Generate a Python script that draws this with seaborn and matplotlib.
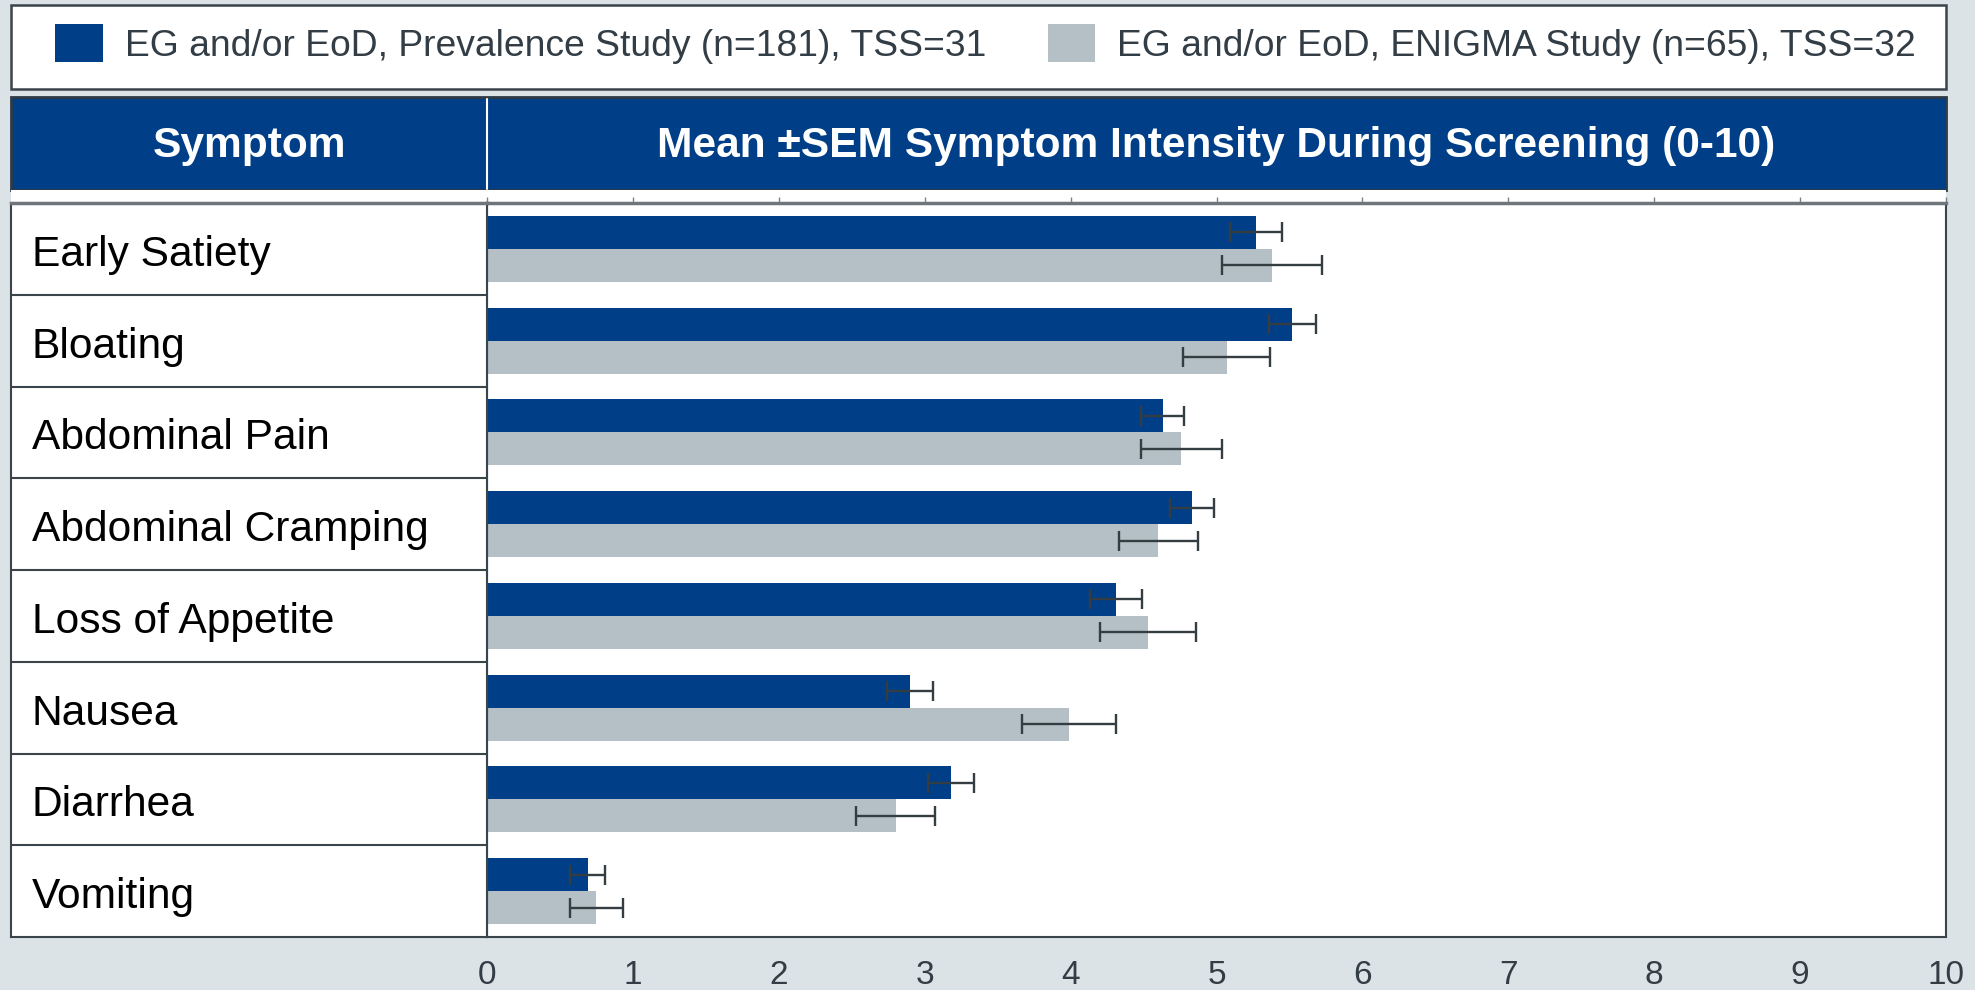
import numpy as np
import pandas as pd
import matplotlib
matplotlib.use("Agg")
import matplotlib.pyplot as plt
import seaborn as sns
from matplotlib.patches import Rectangle
from matplotlib.lines import Line2D

# ---------------- data ----------------
symptoms = ["Early Satiety", "Bloating", "Abdominal Pain", "Abdominal Cramping",
            "Loss of Appetite", "Nausea", "Diarrhea", "Vomiting"]
series_names = ["EG and/or EoD, Prevalence Study (n=181), TSS=31",
                "EG and/or EoD, ENIGMA Study (n=65), TSS=32"]
prev_mean = [5.27, 5.52, 4.63, 4.83, 4.31, 2.90, 3.18, 0.69]
prev_sem = [0.18, 0.16, 0.15, 0.15, 0.18, 0.16, 0.16, 0.12]
enig_mean = [5.38, 5.07, 4.76, 4.60, 4.53, 3.99, 2.80, 0.75]
enig_sem = [0.34, 0.30, 0.28, 0.27, 0.33, 0.32, 0.27, 0.18]
x_ticks = list(range(0, 11))
header_left = "Symptom"
header_right = "Mean ±SEM Symptom Intensity During Screening (0-10)"

# ---------------- style ----------------
W, H = 1975, 990
BG = "#DCE3E6"
BLUE = "#003F87"
GRAY = "#B4C0C6"
DARK = "#3A444B"
TXT = "#333D45"

sns.set_theme(style="white")
plt.rcParams['font.family'] = ['Liberation Sans', 'DejaVu Sans']

fig = plt.figure(figsize=(W / 100, H / 100), dpi=100, facecolor=BG)


def fx(px):
    return px / W


def fy(py):
    return 1 - py / H


def rect(x0, y0, x1, y1, **kw):
    r = Rectangle((fx(x0), fy(y1)), fx(x1) - fx(x0), fy(y0) - fy(y1),
                  transform=fig.transFigure, **kw)
    fig.add_artist(r)
    return r


# legend box
rect(11, 5, 1946, 89, facecolor="white", edgecolor=DARK, lw=1.8, zorder=0)
# header band
rect(11, 97, 1946, 190, facecolor=BLUE, edgecolor="#2E3A44", lw=2.0, zorder=0)
fig.add_artist(Line2D([fx(487), fx(487)], [fy(99), fy(189)], color="white",
                      lw=1.5, transform=fig.transFigure))
# white table background
rect(11, 190, 1946, 937, facecolor="white", edgecolor="none", zorder=0)

fig.text(fx(249), fy(157), header_left, ha="center", va="baseline",
         fontsize=30.6, fontweight="bold", color="white")
fig.text(fx(1216), fy(157), header_right, ha="center", va="baseline",
         fontsize=30.6, fontweight="bold", color="white")

# ---------------- main axes ----------------
ax = fig.add_axes([fx(487), fy(937), fx(1946) - fx(487), fy(203) - fy(937)])
ax.set_facecolor("white")

df = pd.DataFrame({
    "Symptom": symptoms * 2,
    "Study": [series_names[0]] * len(symptoms) + [series_names[1]] * len(symptoms),
    "Mean": prev_mean + enig_mean,
})

sns.barplot(data=df, x="Mean", y="Symptom", hue="Study", order=symptoms,
            hue_order=series_names, palette=[BLUE, GRAY], width=0.72,
            errorbar=None, saturation=1, linewidth=0, orient="h", ax=ax)

handles, labels = ax.get_legend_handles_labels()
if ax.get_legend() is not None:
    ax.get_legend().remove()

for container, means, sems in zip(ax.containers, [prev_mean, enig_mean],
                                  [prev_sem, enig_sem]):
    ys = [b.get_y() + b.get_height() / 2 for b in container]
    ax.errorbar(means, ys, xerr=sems, fmt="none", ecolor="#333D42",
                elinewidth=1.7, capsize=7.5, capthick=1.7, zorder=5)

ax.set_xlim(0, 10)
ax.set_ylim(7.5, -0.5)
ax.set_xticks(x_ticks)
ax.set_xticklabels([str(t) for t in x_ticks], fontsize=24, color=TXT)
ax.tick_params(axis="x", bottom=False, top=True, labelbottom=True,
               labeltop=False, direction="out", length=4.5, width=1,
               color="#7A8288", pad=12)
ax.set_yticks(np.arange(-0.5, 8, 1))
ax.set_yticklabels([])
ax.tick_params(axis="y", left=True, direction="out", length=4, width=1.5,
               color=DARK)
ax.set_xlabel("")
ax.set_ylabel("")
for side in ["left", "right", "bottom"]:
    ax.spines[side].set_visible(True)
    ax.spines[side].set_color(DARK)
    ax.spines[side].set_linewidth(1.5)
ax.spines["top"].set_visible(True)
ax.spines["top"].set_color("#6E767C")
ax.spines["top"].set_linewidth(2.5)

# ---------------- left symptom column ----------------
axl = fig.add_axes([fx(11), fy(937), fx(487) - fx(11), fy(203) - fy(937)])
axl.set_facecolor("white")
axl.set_xlim(0, 1)
axl.set_ylim(7.5, -0.5)
axl.set_xticks([])
axl.set_yticks([])
for side in axl.spines:
    axl.spines[side].set_visible(True)
    axl.spines[side].set_color(DARK)
    axl.spines[side].set_linewidth(1.5)
axl.spines["top"].set_color("#6E767C")
axl.spines["top"].set_linewidth(2.5)
for i in range(1, len(symptoms)):
    axl.axhline(i - 0.5, color=DARK, lw=1.5)
for i, s in enumerate(symptoms):
    axl.text(0.044, i + 0.185, s, ha="left", va="baseline", fontsize=30.6,
             color="black")

# ---------------- legend ----------------
fig.legend(handles, labels, loc="center left",
           bbox_to_anchor=(fx(55), fy(44)), ncol=2, frameon=False,
           fontsize=26.8, handlelength=1.28, handleheight=1.18,
           handletextpad=0.59, columnspacing=1.66, borderpad=0,
           borderaxespad=0, labelcolor=TXT)

fig.savefig("out.png", dpi=100, facecolor=BG)
